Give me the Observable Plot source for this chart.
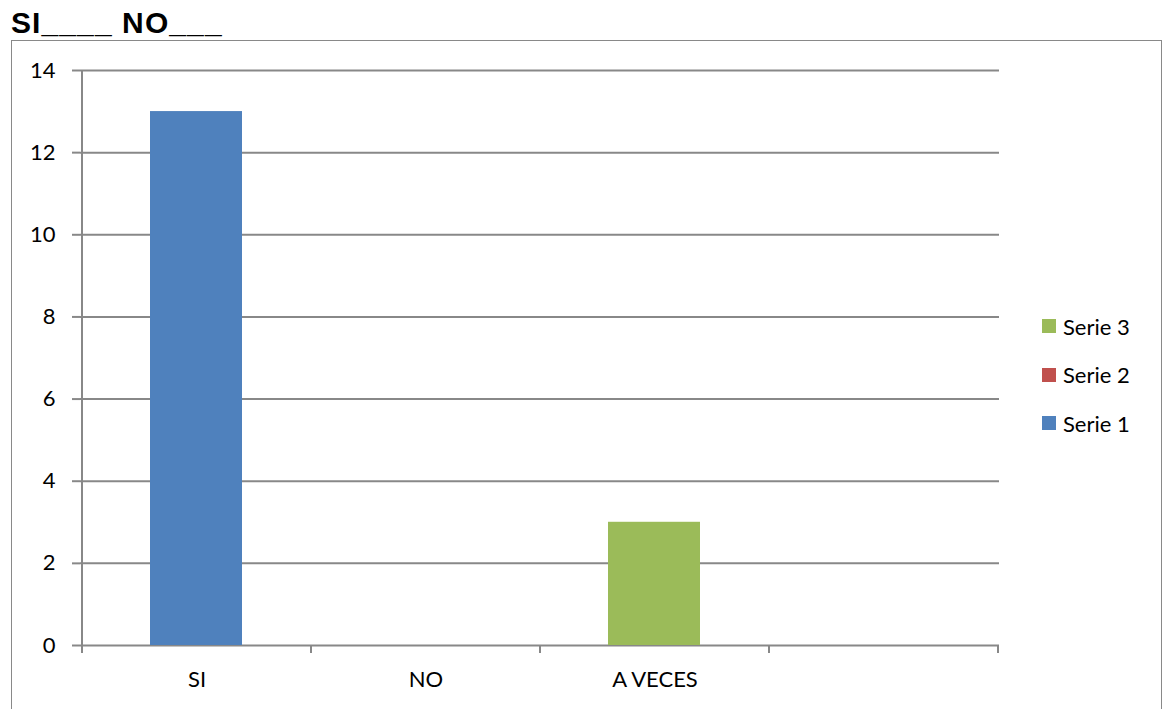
<!DOCTYPE html>
<html>
<head>
<meta charset="utf-8">
<script src="https://cdn.jsdelivr.net/npm/d3@7"></script>
<script src="https://cdn.jsdelivr.net/npm/@observablehq/plot@0.6"></script>
<style>
  html, body { margin: 0; padding: 0; background: #fff; }
  #wrap { position: relative; width: 1167px; height: 709px; overflow: hidden; }
  #box { position: absolute; left: 11px; top: 40px; width: 1151px; height: 720px; border: 1.5px solid #898989; box-sizing: border-box; }
  #title { position: absolute; left: 11px; top: 8px; font: bold 30px "Liberation Sans", Arial, sans-serif; line-height: 30px; color: #000; white-space: pre; letter-spacing: 1.1px; }
  #chart { position: absolute; left: 0; top: 0; }
  #legend { position: absolute; left: 1042px; top: 302px; font: 22px Lato, sans-serif; color: #000; }
  .item { display: flex; align-items: center; height: 48.5px; }
  .sw { width: 14px; height: 14px; margin-right: 7px; }
</style>
</head>
<body>
<div id="wrap">
  <div id="box"></div>
  <div id="title">SI____ NO___</div>
  <div id="chart"></div>
  <div id="legend"></div>
</div>
<script>
const categories = ["SI", "NO", "A VECES", ""];
const seriesNames = ["Serie 1", "Serie 2", "Serie 3"];
const serie1 = [13, 0, 0, 0];
const serie2 = [0, 0, 0, 0];
const serie3 = [0, 0, 3, 0];
const colors = ["#4F81BD", "#C0504D", "#9BBB59"];
const yTicks = [0, 2, 4, 6, 8, 10, 12, 14];

const rows = [];
[serie1, serie2, serie3].forEach((vals, i) =>
  vals.forEach((v, j) => rows.push({category: categories[j], series: seriesNames[i], value: v}))
);

function axisLines(index, scales, values, dims, context) {
  const x = scales.x;
  const step = x(categories[1]) - x(categories[0]);
  const edges = categories.map(c => x(c)).concat([x(categories[categories.length - 1]) + step]);
  const y0 = scales.y(0), yTop = scales.y(14);
  const g = d3.create("svg:g").attr("stroke", "#888").attr("stroke-width", 2);
  edges.forEach(e => g.append("line").attr("x1", e).attr("x2", e).attr("y1", y0).attr("y2", y0 + 8));
  g.append("line").attr("x1", edges[0]).attr("x2", edges[0]).attr("y1", yTop).attr("y2", y0);
  return g.node();
}

const chart = Plot.plot({
  width: 1167,
  height: 709,
  marginLeft: 80,
  marginRight: 168,
  marginTop: 70,
  marginBottom: 64,
  style: {fontFamily: "Lato, sans-serif", fontSize: "22px", color: "#000", background: "transparent"},
  x: {domain: categories, padding: 0, label: null},
  y: {domain: [0, 14], label: null},
  color: {domain: seriesNames, range: colors},
  marks: [
    Plot.gridY(yTicks, {stroke: "#888", strokeOpacity: 1, strokeWidth: 2}),
    Plot.axisY(yTicks, {tickSize: 8, tickPadding: 17, stroke: "#888", strokeWidth: 2, fill: "#000", fontSize: 22, label: null}),
    Plot.axisX({tickSize: 0, tickPadding: 26, fill: "#000", fontSize: 22, label: null}),
    Plot.barY(rows.filter(d => d.value > 0), {x: "category", y: "value", fill: "series", insetLeft: 68, insetRight: 69}),
    axisLines
  ]
});
document.getElementById("chart").appendChild(chart);

const legend = document.getElementById("legend");
seriesNames.slice().reverse().forEach(name => {
  const item = document.createElement("div");
  item.className = "item";
  const sw = document.createElement("div");
  sw.className = "sw";
  sw.style.background = colors[seriesNames.indexOf(name)];
  const t = document.createElement("span");
  t.textContent = name;
  item.appendChild(sw);
  item.appendChild(t);
  legend.appendChild(item);
});
</script>
</body>
</html>
